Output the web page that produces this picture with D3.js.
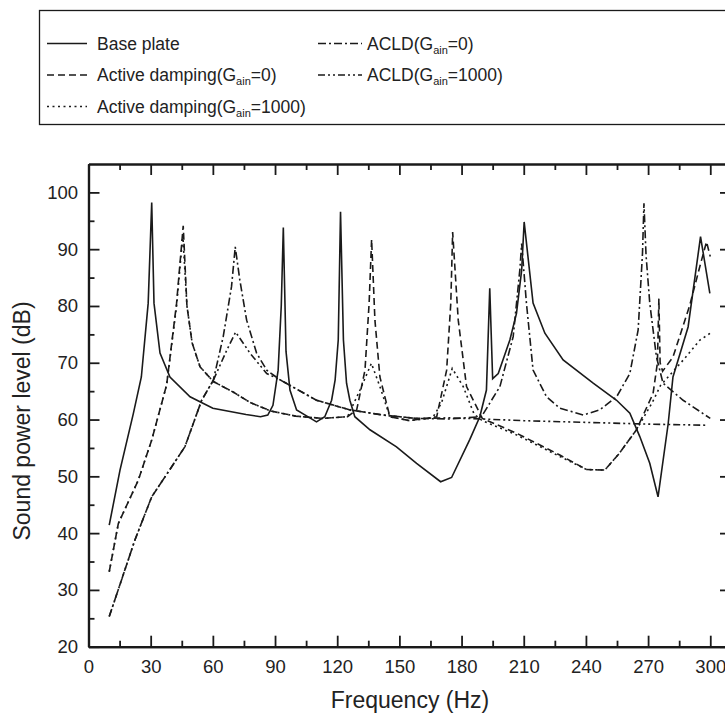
<!DOCTYPE html>
<html lang="en">
<head>
<meta charset="UTF-8">
<title>Sound power level</title>
<style>
  body { margin: 0; background: #fff; }
  text { font-family: Arial, "Liberation Sans", sans-serif; fill: #222; }
</style>
</head>
<body>
<script src="https://d3js.org/d3.v7.min.js"></script>
<script>
    // [frequency (Hz), sound power level (dB)]
    const basePlate = [[10, 41.4], [15.2, 51.1], [21.6, 61], [25.5, 67.5], [28.8, 80.5], [30.5, 98.2], [31.6, 80.5],
        [34.5, 71.7], [39.3, 67.5], [49, 64], [60, 62], [76, 60.9], [83, 60.5], [86.5, 60.8], [89, 62.5], [91.5, 68.7],
        [93, 80], [94, 93.8], [95.3, 72], [97.2, 65.2], [100.4, 61.7], [106.8, 60.3], [110, 59.6], [114, 60.5],
        [117.3, 63.4], [119, 67], [120.5, 74], [121.6, 96.6], [123, 74], [124.5, 66.4], [126.1, 63.4], [128.5, 60.5],
        [135.8, 58.2], [148.6, 55.2], [158.3, 52.3], [169.9, 49.05], [175.2, 49.8], [184, 56.5], [188.8, 60.5],
        [192, 65.2], [193.6, 83.1], [195, 67.2], [197.7, 68.1], [203.3, 74], [206.5, 78.7], [209, 86.3], [210.2, 94.8],
        [214.5, 80.5], [220.2, 75.2], [229, 70.5], [243.5, 66.4], [254.8, 63.4], [261.2, 61.1], [266, 57],
        [270.8, 52.3], [274.8, 46.4], [279.7, 59.3], [282, 67.5], [289.3, 76.3], [295.3, 92.2], [299.8, 82.2]];

    const activeG0 = [[10, 33.2], [14.4, 41.7], [24, 49.3], [30.5, 56.4], [37.7, 66.1], [42.5, 80.5], [45.7, 94.1],
        [47.5, 80], [50, 73.5], [53.8, 69.3], [60.2, 66.7], [70, 64.8], [78, 63], [88, 61.5], [100, 60.6], [113, 60.2],
        [125, 60.5], [129.4, 61.7], [133.4, 68.7], [135.4, 80.5], [136.6, 91.7], [138.2, 77.5], [140.6, 67.5],
        [145.4, 60.5], [155, 59.8], [168, 60.5], [172.8, 68.7], [174.8, 80.5], [175.7, 93], [178.4, 77.5],
        [182.4, 65.8], [190, 60.2], [206.5, 57.6], [227.4, 53.75], [240.3, 51.2], [249.1, 51.1], [256, 54],
        [264.4, 58.2], [272.4, 64.6], [274.5, 70], [275.2, 81.3], [275.8, 70], [277, 68.5], [282, 71], [290, 80],
        [295, 87], [298.2, 91.3], [300, 88.7]];

    const activeG1000 = [[10, 33.2], [14.4, 41.7], [24, 49.3], [30.5, 56.4], [37.7, 66.1], [42.5, 80], [45.5, 92.5],
        [47.5, 80], [50, 73.5], [53.8, 69.3], [60.2, 66.7], [70, 64.8], [78, 63], [88, 61.5], [100, 60.6], [113, 60.2],
        [125, 60.5], [131, 65.2], [136.5, 69.9], [140.6, 65.8], [145.4, 60.5], [155, 59.8], [166, 60.3], [170.3, 62.9],
        [175.5, 69], [180.8, 65.8], [186, 61], [190, 59.8], [206.5, 57.3], [227.4, 53.5], [240.3, 51.2],
        [249.1, 51.1], [256, 54], [264.4, 58.2], [272, 63], [276, 66], [287, 70.5], [295, 74], [300, 75.2]];

    const acldG0 = [[10, 25.3], [22.4, 38.8], [30.5, 46.4], [36.9, 49.9], [46.5, 55.2], [54.6, 63.4], [60.2, 66.9],
        [65, 74.6], [69, 83.4], [70.8, 90.4], [73, 84.6], [76.3, 77.5], [81.1, 71.7], [86, 68.7], [92.4, 67],
        [110, 63.4], [126, 61.7], [142, 60.8], [158, 60.2], [174, 60.1], [189.6, 60.5], [198.5, 65.8], [204.9, 74.6],
        [208.1, 86.3], [209, 91], [211.3, 80.5], [214.5, 68.7], [221, 64], [227.4, 62], [238.7, 60.8], [246.7, 61.7],
        [254.8, 64], [261.2, 68.1], [265.2, 75.8], [267.3, 89.3], [268, 98.1], [269, 89], [270.8, 80.5], [274, 71.1],
        [277.2, 66.4], [286.9, 63.4], [300, 60.2]];

    const acldG1000 = [[10, 25.3], [22.4, 38.8], [30.5, 46.4], [36.9, 49.9], [46.5, 55.2], [54.6, 63.4], [60.2, 66.9],
        [66.7, 72.2], [71, 75.4], [77.9, 71.7], [86, 68.1], [92.4, 67], [110, 63.4], [126, 61.7], [142, 60.8],
        [158, 60.2], [174, 60.3], [190, 60.1], [210, 59.8], [240, 59.5], [270, 59.2], [298, 59]];

    const xTicks = [0, 30, 60, 90, 120, 150, 180, 210, 240, 270, 300];
    const xMinor = [15, 45, 75, 105, 135, 165, 195, 225, 255, 285];
    const yTicks = [20, 30, 40, 50, 60, 70, 80, 90, 100];
    const yMinor = [25, 35, 45, 55, 65, 75, 85, 95];

    // legend text: [before subscript, subscript, after subscript]
    const labels = [["Base plate", "", ""], ["Active damping(G", "ain", "=0)"], ["Active damping(G", "ain", "=1000)"],
        ["ACLD(G", "ain", "=0)"], ["ACLD(G", "ain", "=1000)"]];

    let w = 725, h = 719;

    let svg = d3.select("body").append("svg")
        .attr("width", w)
        .attr("height", h);

    let x = d3.scaleLinear().domain([0, 310]).range([88.5, 731]);
    let y = d3.scaleLinear().domain([20, 105]).range([646.7, 164]);

    let series = [
        {data: basePlate, dash: null},
        {data: activeG0, dash: "7,4"},
        {data: activeG1000, dash: "2,3.5"},
        {data: acldG0, dash: "8,3,2,3"},
        {data: acldG1000, dash: "7,3,2,3,2,3"}
    ];

    let line = d3.line()
        .x(d => x(d[0]))
        .y(d => y(d[1]));

    svg.selectAll("path.series")
        .data(series)
        .enter()
        .append("path")
        .attr("class", "series")
        .attr("d", d => line(d.data))
        .attr("fill", "none")
        .attr("stroke", "#1a1a1a")
        .attr("stroke-width", 1.6)
        .attr("stroke-dasharray", d => d.dash);

    // axes, ticks on the inside
    function style(g) {
        g.select(".domain").attr("stroke", "#1a1a1a").attr("stroke-width", 2.2);
        g.selectAll(".tick line").attr("stroke", "#1a1a1a").attr("stroke-width", 1.8);
        g.selectAll(".tick text").style("font-size", "18.5px").attr("fill", "#222");
    }

    svg.append("g").attr("transform", "translate(0," + y(20) + ")")
        .call(d3.axisBottom(x).tickValues(xTicks).tickSize(-11).tickSizeOuter(0).tickPadding(13))
        .call(style);
    svg.append("g").attr("transform", "translate(0," + y(20) + ")")
        .call(d3.axisBottom(x).tickValues(xMinor).tickSize(-6).tickSizeOuter(0).tickFormat(""))
        .call(style);
    svg.append("g").attr("transform", "translate(0," + y(105) + ")")
        .call(d3.axisTop(x).tickValues(xTicks).tickSize(-11).tickSizeOuter(0).tickFormat(""))
        .call(style);
    svg.append("g").attr("transform", "translate(0," + y(105) + ")")
        .call(d3.axisTop(x).tickValues(xMinor).tickSize(-6).tickSizeOuter(0).tickFormat(""))
        .call(style);

    svg.append("g").attr("transform", "translate(" + x(0) + ",0)")
        .call(d3.axisLeft(y).tickValues(yTicks).tickSize(-11).tickSizeOuter(0).tickPadding(10.5))
        .call(style);
    svg.append("g").attr("transform", "translate(" + x(0) + ",0)")
        .call(d3.axisLeft(y).tickValues(yMinor).tickSize(-6).tickSizeOuter(0).tickFormat(""))
        .call(style);
    svg.append("g").attr("transform", "translate(" + x(310) + ",0)")
        .call(d3.axisRight(y).tickValues(yTicks).tickSize(-11).tickSizeOuter(0).tickFormat(""))
        .call(style);
    svg.append("g").attr("transform", "translate(" + x(310) + ",0)")
        .call(d3.axisRight(y).tickValues(yMinor).tickSize(-6).tickSizeOuter(0).tickFormat(""))
        .call(style);

    // axis titles
    svg.append("text")
        .attr("x", 410)
        .attr("y", 708)
        .attr("text-anchor", "middle")
        .style("font-size", "23px")
        .text("Frequency (Hz)");

    svg.append("text")
        .attr("transform", "translate(30,421) rotate(-90)")
        .attr("text-anchor", "middle")
        .style("font-size", "23px")
        .text("Sound power level (dB)");

    // legend
    svg.append("rect")
        .attr("x", 39.5)
        .attr("y", 10.5)
        .attr("width", 760)
        .attr("height", 114)
        .attr("fill", "none")
        .attr("stroke", "#1a1a1a")
        .attr("stroke-width", 1.3);

    let slots = [
        {x0: 47, x1: 87, tx: 97, by: 49.5},
        {x0: 47, x1: 87, tx: 97, by: 81},
        {x0: 47, x1: 87, tx: 97, by: 112.5},
        {x0: 318, x1: 362, tx: 367, by: 49.5},
        {x0: 318, x1: 362, tx: 367, by: 81}
    ];

    let items = svg.selectAll("g.item")
        .data(series)
        .enter()
        .append("g")
        .attr("class", "item");

    items.append("line")
        .attr("x1", (d, i) => slots[i].x0)
        .attr("x2", (d, i) => slots[i].x1)
        .attr("y1", (d, i) => slots[i].by - 6)
        .attr("y2", (d, i) => slots[i].by - 6)
        .attr("stroke", "#1a1a1a")
        .attr("stroke-width", 1.6)
        .attr("stroke-dasharray", d => d.dash);

    let t = items.append("text")
        .attr("x", (d, i) => slots[i].tx)
        .attr("y", (d, i) => slots[i].by)
        .style("font-size", "17.5px");
    t.append("tspan").text((d, i) => labels[i][0]);
    t.append("tspan").attr("dy", 4).style("font-size", "11px").text((d, i) => labels[i][1]);
    t.append("tspan").attr("dy", -4).text((d, i) => labels[i][2]);
</script>
</body>
</html>
